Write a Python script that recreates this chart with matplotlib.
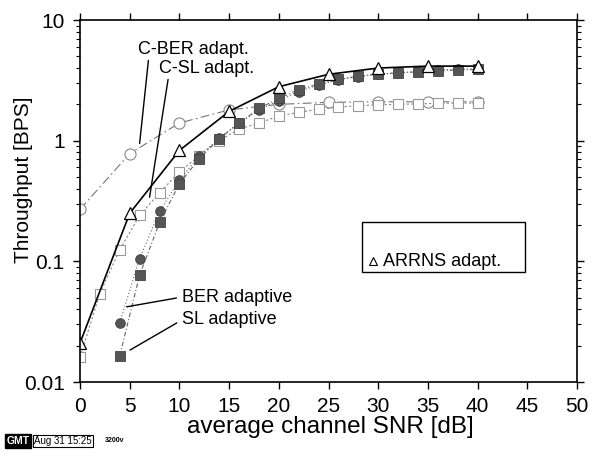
import matplotlib
matplotlib.use("Agg")
import matplotlib.pyplot as plt
from matplotlib.patches import Rectangle

plt.rcParams["font.family"] = ["Liberation Sans", "DejaVu Sans"]

# C-BER adapt. (open circles)
cber_snr = [0, 5, 10, 15, 20, 25, 30, 35, 40]
cber_bps = [0.27, 0.78, 1.4, 1.8, 2.0, 2.08, 2.1, 2.1, 2.1]

# C-SL adapt. (open squares)
csl_snr = [0, 2, 4, 6, 8, 10, 12, 14, 16, 18, 20, 22, 24, 26, 28, 30, 32, 34, 36, 38, 40]
csl_bps = [0.016, 0.054, 0.125, 0.24, 0.37, 0.55, 0.75, 1.0, 1.25, 1.4, 1.6,
           1.72, 1.82, 1.9, 1.95, 1.98, 2.0, 2.02, 2.04, 2.05, 2.05]

# BER adaptive (filled circles)
ber_snr = [4, 6, 8, 10, 12, 14, 16, 18, 20, 22, 24, 26, 28, 30, 32, 34, 36, 38, 40]
ber_bps = [0.031, 0.105, 0.26, 0.47, 0.75, 1.05, 1.4, 1.8, 2.15, 2.55, 2.9,
           3.2, 3.4, 3.55, 3.65, 3.75, 3.85, 3.9, 3.95]

# SL adaptive (filled squares)
sl_snr = [4, 6, 8, 10, 12, 14, 16, 18, 20, 22, 24, 26, 28, 30, 32, 34, 36, 38, 40]
sl_bps = [0.0165, 0.077, 0.21, 0.44, 0.71, 1.04, 1.39, 1.85, 2.24, 2.65, 2.94,
          3.22, 3.43, 3.56, 3.65, 3.72, 3.8, 3.85, 3.9]

# ARRNS adapt. (triangles)
arrns_snr = [0, 5, 10, 15, 20, 25, 30, 35, 40]
arrns_bps = [0.021, 0.25, 0.83, 1.75, 2.8, 3.55, 4.0, 4.15, 4.15]

fig = plt.figure(figsize=(6.0, 4.53), dpi=100)
ax = fig.add_axes([0.1333, 0.1567, 0.8284, 0.7991])

ax.plot(cber_snr, cber_bps, color="#777777", lw=0.8, ls=(0, (8, 3, 1.5, 3)),
        marker="o", ms=8, mfc="white", mec="#888888", mew=0.8)
ax.plot(csl_snr, csl_bps, color="#888888", lw=0.8, ls=(0, (2, 2)),
        marker="s", ms=7, mfc="white", mec="#999999", mew=0.8)
ax.plot(ber_snr, ber_bps, color="#666666", lw=0.8, ls=(0, (1, 2)),
        marker="o", ms=7, mfc="#555555", mec="#444444", mew=0.6)
ax.plot(sl_snr, sl_bps, color="#666666", lw=0.8, ls=(0, (4, 2, 1, 2)),
        marker="s", ms=7, mfc="#555555", mec="#444444", mew=0.6)
ax.plot(arrns_snr, arrns_bps, color="black", lw=1.2, ls="-",
        marker="^", ms=9, mfc="white", mec="black", mew=0.9)

ax.set_yscale("log")
ax.set_xlim(0, 50)
ax.set_ylim(0.01, 10)
ax.set_xticks(range(0, 51, 5))
ax.set_yticks([0.01, 0.1, 1, 10])
ax.set_yticklabels(["0.01", "0.1", "1", "10"])
ax.tick_params(which="both", direction="out", top=True, right=True, labelsize=15)
ax.tick_params(which="major", length=5, width=1, pad=6)
ax.tick_params(which="minor", length=3, width=0.8)
for s in ax.spines.values():
    s.set_linewidth(1.2)

ax.set_xlabel("average channel SNR [dB]", fontsize=17.5)
ax.xaxis.set_label_coords(0.503, -0.095)
ax.set_ylabel("Throughput [BPS]", fontsize=15)
ax.yaxis.set_label_coords(-0.095, 0.56)

# curve labels with leader lines
ax.annotate("C-BER adapt.", xy=(6.0, 0.95), xytext=(5.8, 5.74), fontsize=13,
            va="center", ha="left",
            arrowprops=dict(arrowstyle="-", color="black", lw=1,
                            shrinkA=0, shrinkB=0, relpos=(0.1, 0.0)))
ax.annotate("C-SL adapt.", xy=(7.0, 0.34), xytext=(7.95, 3.99), fontsize=13,
            va="center", ha="left",
            arrowprops=dict(arrowstyle="-", color="black", lw=1,
                            shrinkA=0, shrinkB=0, relpos=(0.1, 0.0)))
ax.annotate("BER adaptive", xy=(4.7, 0.042), xytext=(10.26, 0.0506), fontsize=13,
            va="center", ha="left",
            arrowprops=dict(arrowstyle="-", color="black", lw=1,
                            shrinkA=2, shrinkB=0, relpos=(0.0, 0.5)))
ax.annotate("SL adaptive", xy=(5.03, 0.0184), xytext=(10.26, 0.0327), fontsize=13,
            va="center", ha="left",
            arrowprops=dict(arrowstyle="-", color="black", lw=1,
                            shrinkA=2, shrinkB=0, relpos=(0.0, 0.5)))

# legend box (only the ARRNS entry is visible)
ax.add_patch(Rectangle((0.5668, 0.305), 0.328, 0.138, transform=ax.transAxes,
                       fill=False, ec="black", lw=1, zorder=5))
ax.plot([0.589], [0.334], transform=ax.transAxes, marker="^", ms=6,
        mfc="white", mec="black", mew=0.8, ls="none", zorder=6, clip_on=False)
ax.text(0.61, 0.334, "ARRNS adapt.", transform=ax.transAxes, fontsize=13,
        va="center", ha="left", zorder=6)

# plot stamp
fig.text(0.011, 0.0265, "GMT", fontsize=7.5, color="white", weight="bold",
         va="center", ha="left",
         bbox=dict(boxstyle="square,pad=0.15", fc="black", ec="black"))
fig.text(0.057, 0.0265, "Aug 31 15:25", fontsize=7, va="center", ha="left",
         bbox=dict(boxstyle="square,pad=0.15", fc="white", ec="black", lw=0.8))
fig.text(0.175, 0.0265, "3200v", fontsize=5, weight="bold", va="center", ha="left")

fig.savefig("out.png", dpi=100)
